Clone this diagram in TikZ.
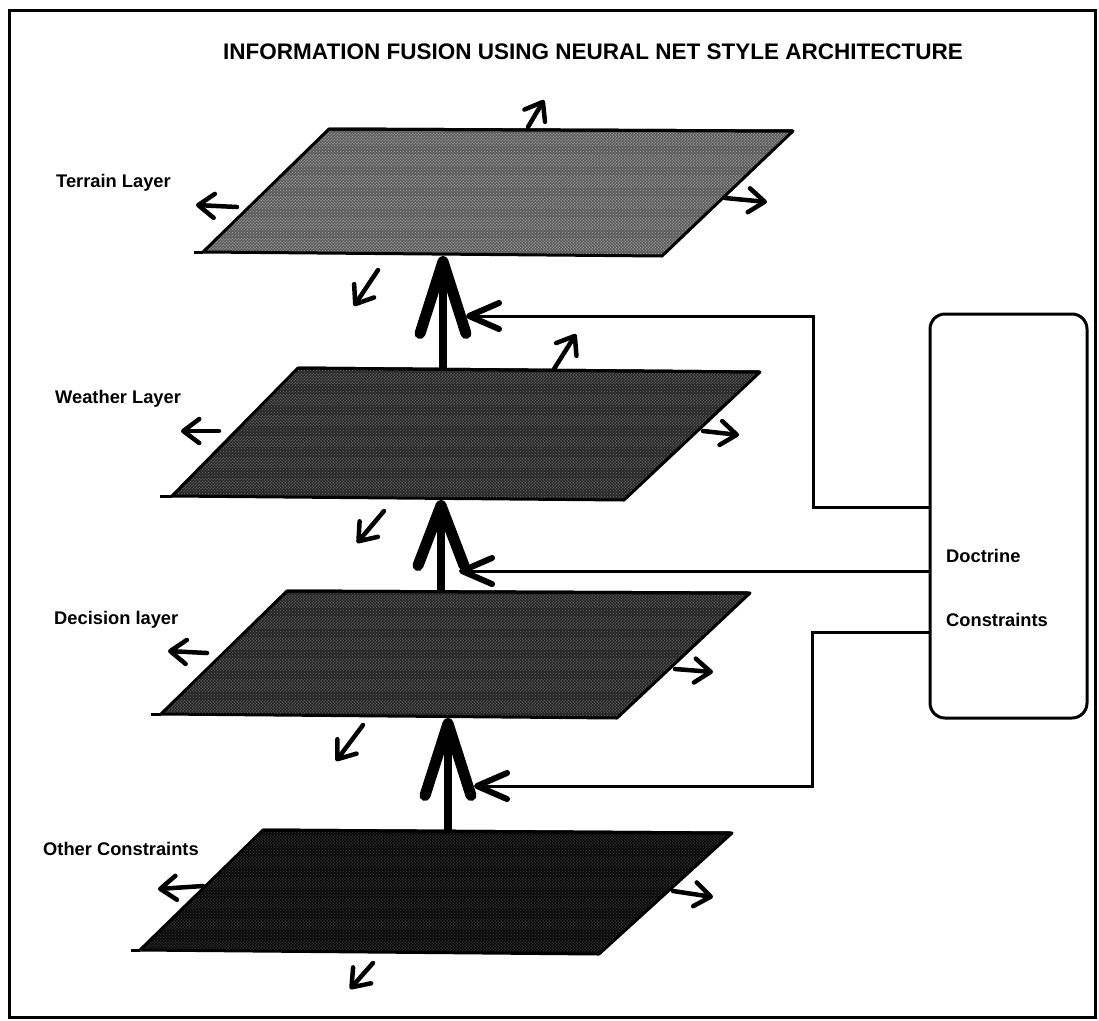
\documentclass[tikz,border=0pt]{standalone}
\usepackage{fontspec}
\setmainfont{Liberation Sans}
\usetikzlibrary{arrows.meta,patterns,calc}
\newcommand\layerplane[7]{%
  \coordinate (#1-tl) at #2;
  \coordinate (#1-tr) at #3;
  \coordinate (#1-br) at #4;
  \coordinate (#1-bl) at #5;
  \coordinate (#1-ft) at #6;
  \fill[#7] (#1-tl) -- (#1-tr) -- (#1-br) -- (#1-bl) -- cycle;
  \begin{scope}
    \clip (#1-tl) -- (#1-tr) -- (#1-br) -- (#1-bl) -- cycle;
    \path[pattern=crosshatch dots, pattern color=basedot] ($(#1-tl)+(-300,0)$) rectangle ($(#1-tl)+(600,140)$);
    \foreach \k in {0,1,2,3,4,5} {
      \path[pattern=dots, pattern color=bandcol] ($(#1-tl)+(-300,\k*21+5)$) rectangle ($(#1-tl)+(600,\k*21+15)$);
    }
  \end{scope}
  \draw[planeedge] (#1-tl) -- (#1-tr) -- (#1-br) -- (#1-bl) -- cycle;
  \draw[planeedge] (#1-tl) -- (#1-tr);
  \draw[planeedge] (#1-ft) -- (#1-bl);
}
\newcommand\smallarrow[3]{%
  \coordinate (#1-a) at #2;
  \coordinate (#1-b) at #3;
  \draw[smallarr] (#1-a) -- (#1-b);
}
\begin{document}
\begin{tikzpicture}[x=1pt,y=-1pt,
  lbl/.style={font=\fontsize{18.3}{20}\selectfont\bfseries, anchor=west, inner sep=0pt},
  planeedge/.style={line width=3pt, line join=round},
  smallarr/.style={line width=4.5pt, line cap=round, -{Straight Barb[length=16pt,width=24pt,round]}},
  bigarr/.style={line width=8pt, -{Straight Barb[length=72pt,width=46pt,line width=11pt,round]}},
  fbarr/.style={line width=3pt, -{Straight Barb[length=30pt,width=26pt,line width=6pt,round]}},
  docbox/.style={draw, line width=3pt, rounded corners=15pt, minimum width=157pt, minimum height=404pt, inner sep=0pt}]
\colorlet{bandcol}{white!75!black}
\colorlet{basedot}{black!50}
\useasboundingbox (0,0) rectangle (1099,1020);
\node[draw=none, inner sep=0pt, minimum width=1085pt, minimum height=1006pt] (frame) at (552.5,514) {};
\draw[line width=3pt] (frame.north west) rectangle (frame.south east);
\node[font=\fontsize{22.5}{24}\selectfont\bfseries, inner sep=0pt] (title) at (593,52) {INFORMATION FUSION USING NEURAL NET STYLE ARCHITECTURE};

% planes
\colorlet{bandcol}{white!85!black}
\colorlet{basedot}{black!35}
\layerplane{ter}{(329,129)}{(793,131)}{(662,256)}{(203,252)}{(194,252)}{black!64}
\colorlet{bandcol}{white!66!black}
\colorlet{basedot}{black!58}
\layerplane{wea}{(298,368)}{(760,372)}{(624,500)}{(172,496)}{(160,496)}{black!84}
\colorlet{bandcol}{white!62!black}
\colorlet{basedot}{black!60}
\layerplane{dec}{(287,591)}{(750,593)}{(617,718)}{(161,714)}{(151,714)}{black!85}
\colorlet{bandcol}{black!62}
\colorlet{basedot}{black!80}
\layerplane{oth}{(263,830)}{(732,833)}{(599,954)}{(140,950)}{(131,950)}{black!95}

% labels
\node[lbl] (lter) at (56,183) {Terrain Layer};
\node[lbl] (lwea) at (55,399) {Weather Layer};
\node[lbl] (ldec) at (54,620) {Decision layer};
\node[lbl] (loth) at (43,849) {Other Constraints};

% doctrine box
\node[docbox] (doc) at (1008.5,516) {};
\node[lbl] (doct) at (946,556) {Doctrine};
\node[lbl] (cons) at (946,620) {Constraints};

% small arrows
\smallarrow{tu}{(528,127)}{(544,100)}
\smallarrow{tl}{(237,207)}{(196,205)}
\smallarrow{tr}{(725,198)}{(767,202)}
\smallarrow{td}{(378,270)}{(354,306)}
\smallarrow{wu}{(554,369)}{(576,334)}
\smallarrow{wl}{(219,431)}{(181,431)}
\smallarrow{wr}{(703,431)}{(739,435)}
\smallarrow{wd}{(384,511)}{(357,543)}
\smallarrow{dl}{(207,653)}{(168,651)}
\smallarrow{dr}{(675,669)}{(713,672)}
\smallarrow{dd}{(363,725)}{(336,761)}
\smallarrow{ol}{(203,886)}{(158,889)}
\smallarrow{or}{(673,891)}{(713,897)}
\smallarrow{od}{(373,963)}{(350,989)}

% big arrows
\coordinate (a1s) at (443,369);
\coordinate (a1t) at (443,256);
\coordinate (a2s) at (441,591);
\coordinate (a2t) at (441,500);
\coordinate (a3s) at (448,830);
\coordinate (a3t) at (448,718);
\draw[bigarr] (a1s) -- (a1t);
\draw[bigarr, -{Straight Barb[length=60pt,width=46pt,line width=11pt,round]}] (a2s) -- (a2t);
\draw[bigarr] (a3s) -- (a3t);

% feedback
\coordinate (f1s) at (doc.west |- 0,507);
\coordinate (f1a) at (813,507);
\coordinate (f1b) at (813,316);
\coordinate (f1t) at (466,316);
\draw[fbarr] (f1s) -- (f1a) -- (f1b) -- (f1t);
\coordinate (f2s) at (doc.west |- 0,571);
\coordinate (f2t) at (459,571);
\draw[fbarr] (f2s) -- (f2t);
\coordinate (f3s) at (doc.west |- 0,632);
\coordinate (f3a) at (812,632);
\coordinate (f3b) at (812,786);
\coordinate (f3t) at (474,786);
\draw[fbarr] (f3s) -- (f3a) -- (f3b) -- (f3t);
\end{tikzpicture}
\end{document}
